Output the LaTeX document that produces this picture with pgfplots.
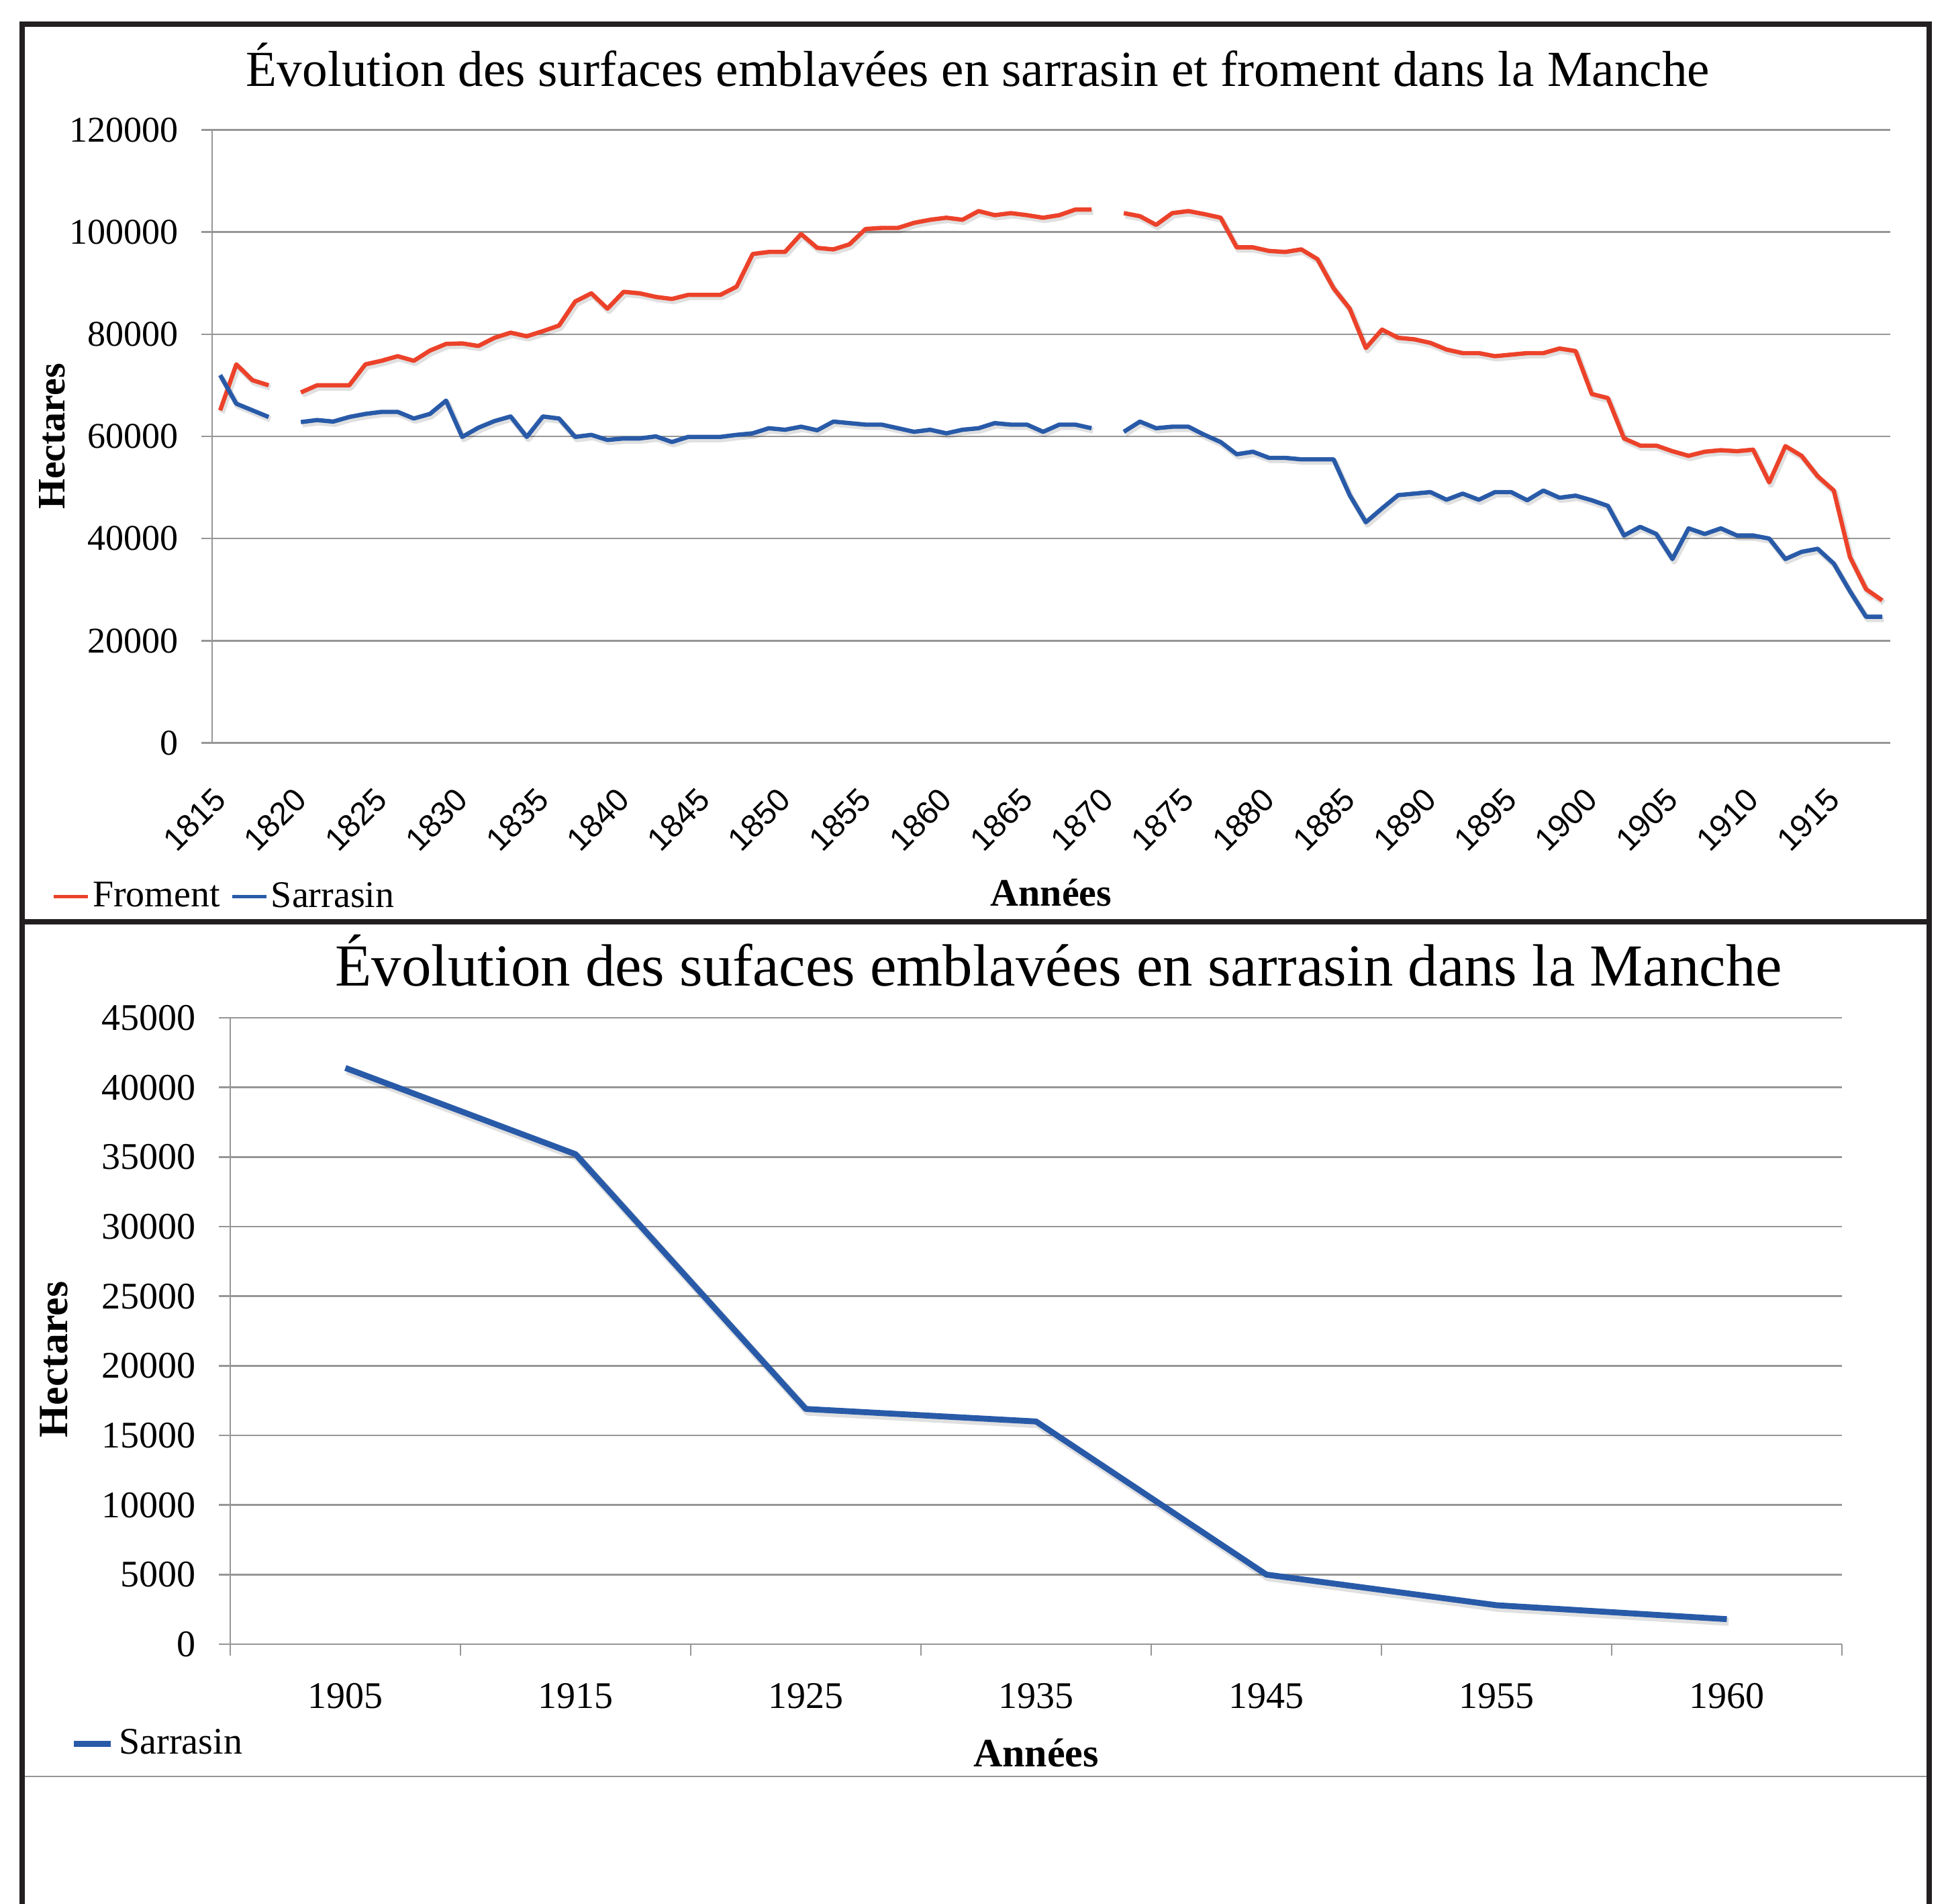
\documentclass[border=0pt]{standalone}
\usepackage{fontspec}
\setmainfont{Liberation Serif}
\setsansfont{Liberation Sans}
\usepackage{pgfplots}
\usepackage{pgfplotstable}
\pgfplotsset{compat=1.18}
\definecolor{froment}{RGB}{236,66,42}
\definecolor{sarrasin}{RGB}{40,90,168}
\definecolor{gridgray}{RGB}{150,150,150}
\definecolor{frame}{RGB}{35,31,32}

\pgfplotstableread{
year F S
1815 65100 72000
1816 74100 66400
1817 71000 65100
1818 70000 63800
1819 nan nan
1820 68600 62800
1821 70000 63200
1822 70000 62900
1823 70000 63800
1824 74100 64400
1825 74800 64800
1826 75700 64800
1827 74800 63500
1828 76800 64400
1829 78100 67000
1830 78200 59900
1831 77700 61700
1832 79300 63000
1833 80300 63900
1834 79600 59900
1835 80600 63900
1836 81700 63500
1837 86400 59900
1838 88000 60300
1839 85000 59300
1840 88300 59600
1841 88000 59600
1842 87300 60000
1843 86900 58900
1844 87700 59900
1845 87700 59900
1846 87700 59900
1847 89300 60300
1848 95700 60600
1849 96100 61600
1850 96100 61300
1851 99600 61900
1852 96900 61200
1853 96600 62900
1854 97600 62600
1855 100600 62300
1856 100800 62300
1857 100800 61600
1858 101800 60900
1859 102400 61300
1860 102800 60600
1861 102400 61300
1862 104100 61600
1863 103300 62600
1864 103700 62300
1865 103300 62300
1866 102800 60900
1867 103300 62300
1868 104400 62300
1869 104400 61600
1870 nan nan
1871 103700 60900
1872 103100 62900
1873 101400 61600
1874 103700 61900
1875 104100 61900
1876 103500 60300
1877 102800 58900
1878 97000 56500
1879 97000 57000
1880 96300 55800
1881 96100 55800
1882 96600 55500
1883 94700 55500
1884 89000 55500
1885 85000 48500
1886 77300 43200
1887 80900 45900
1888 79300 48500
1889 79000 48800
1890 78300 49100
1891 77000 47600
1892 76300 48800
1893 76300 47600
1894 75700 49100
1895 76000 49100
1896 76300 47500
1897 76300 49400
1898 77200 48000
1899 76700 48400
1900 68300 47500
1901 67500 46400
1902 59600 40600
1903 58200 42300
1904 58200 40900
1905 57100 36000
1906 56200 42000
1907 57000 40900
1908 57300 42000
1909 57100 40600
1910 57400 40600
1911 51000 40000
1912 58100 36000
1913 56200 37400
1914 52200 38000
1915 49400 35100
1916 36400 29700
1917 30100 24700
1918 27900 24700
}\datatop

\pgfplotstableread{
idx val
0 41400
1 35200
2 16900
3 16000
4 5000
5 2800
6 1800
}\databot

\begin{document}
\begin{tikzpicture}
\fill[white] (0,0) rectangle (725.5pt,-709pt);
\useasboundingbox (0,0) rectangle (725.5pt,-709pt);

% ---------------- top chart ----------------
\begin{axis}[
  at={(79pt,-276.65pt)}, anchor=south west,
  scale only axis, width=625pt, height=228.3pt,
  xmin=1814.5, xmax=1918.5, ymin=0, ymax=120000,
  scaled x ticks=false, scaled y ticks=false,
  axis x line*=bottom, axis y line*=left,
  axis line style={gridgray, line width=0.6pt},
  ymajorgrids, grid style={gridgray, line width=0.6pt},
  xtick={1815,1820,1825,1830,1835,1840,1845,1850,1855,1860,1865,1870,1875,1880,1885,1890,1895,1900,1905,1910,1915},
  xticklabels={1815,1820,1825,1830,1835,1840,1845,1850,1855,1860,1865,1870,1875,1880,1885,1890,1895,1900,1905,1910,1915},
  x tick style={draw=none},
  ytick={0,20000,40000,60000,80000,100000,120000},
  yticklabels={0,20000,40000,60000,80000,100000,120000},
  y tick style={gridgray, line width=0.6pt},
  tick align=outside, major tick length=4pt,
  yticklabel style={font=\fontsize{13.5}{14}\selectfont, xshift=-5pt},
  xticklabel style={font=\sffamily\fontsize{12}{12}\selectfont, yshift=-15pt, rotate=45, anchor=east, inner sep=0pt},
  unbounded coords=jump,
  title={Évolution des surfaces emblavées en sarrasin et froment dans la Manche},
  title style={at={(0.4564,1.0716)}, anchor=base, yshift=-6pt, font=\fontsize{18.8}{19}\selectfont},
  xlabel={Années},
  xlabel style={at={(axis description cs:0.5,-0.2446)}, anchor=center, font=\bfseries\fontsize{14.5}{15}\selectfont},
  ylabel={Hectares},
  ylabel style={at={(axis description cs:-0.0952,0.5)}, anchor=center, rotate=0, font=\bfseries\fontsize{14.5}{15}\selectfont},
  legend style={at={(-0.0956,-0.2446)}, anchor=west, draw=none, fill=none, inner sep=0pt, yshift=-1.4pt,
    legend columns=2, font=\fontsize{14}{14}\selectfont,
    nodes={inner sep=1pt},
    /tikz/every even column/.append style={column sep=3pt}},
  legend cell align=left,
  legend image code/.code={\draw[#1, line width=1.3pt] (0pt,0pt) -- (12.75pt,0pt);},
]
\addplot[black, opacity=0.12, line width=2.2pt, line join=round, xshift=0.6pt, yshift=-0.9pt, forget plot] table[x=year,y=F]{\datatop};
\addplot[black, opacity=0.12, line width=2.2pt, line join=round, xshift=0.6pt, yshift=-0.9pt, forget plot] table[x=year,y=S]{\datatop};
\addplot[froment, line width=1.6pt, line join=round] table[x=year,y=F]{\datatop};
\addplot[sarrasin, line width=1.6pt, line join=round] table[x=year,y=S]{\datatop};
\legend{Froment,Sarrasin}
\end{axis}

% ---------------- bottom chart ----------------
\begin{axis}[
  at={(85.75pt,-612.25pt)}, anchor=south west,
  scale only axis, width=600.25pt, height=233.25pt,
  xmin=-0.5, xmax=6.5, ymin=0, ymax=45000,
  scaled x ticks=false, scaled y ticks=false,
  axis x line*=bottom, axis y line*=left,
  axis line style={gridgray, line width=0.6pt},
  ymajorgrids, grid style={gridgray, line width=0.6pt},
  xtick={0,1,2,3,4,5,6},
  xticklabels={1905,1915,1925,1935,1945,1955,1960},
  major x tick style={draw=none},
  minor xtick={-0.5,0.5,1.5,2.5,3.5,4.5,5.5,6.5},
  minor x tick style={gridgray, line width=0.6pt},
  minor tick length=4.25pt,
  ytick={0,5000,10000,15000,20000,25000,30000,35000,40000,45000},
  yticklabels={0,5000,10000,15000,20000,25000,30000,35000,40000,45000},
  y tick style={gridgray, line width=0.6pt},
  tick align=outside, major tick length=4.25pt,
  yticklabel style={font=\fontsize{14}{14}\selectfont, xshift=-5pt},
  xticklabel style={font=\fontsize{14}{14}\selectfont, yshift=-6.8pt},
  title={Évolution des sufaces emblavées en sarrasin dans la Manche},
  title style={at={(0.514,1.0514)}, anchor=base, yshift=-6pt, font=\fontsize{22.2}{22}\selectfont},
  xlabel={Années},
  xlabel style={at={(axis description cs:0.5,-0.1736)}, anchor=center, font=\bfseries\fontsize{15}{15}\selectfont},
  ylabel={Hectares},
  ylabel style={at={(axis description cs:-0.1095,0.4544)}, anchor=center, rotate=0, font=\bfseries\fontsize{15.5}{16}\selectfont},
  legend style={at={(-0.0991,-0.153)}, anchor=west, draw=none, fill=none, inner sep=0pt, yshift=-1.4pt,
    font=\fontsize{14}{14}\selectfont, nodes={inner sep=2pt}},
  legend cell align=left,
  legend image code/.code={\draw[#1, line width=2.2pt] (0pt,0pt) -- (13.75pt,0pt);},
]
\addplot[black, opacity=0.12, line width=3pt, line join=round, xshift=0.7pt, yshift=-1pt, forget plot] table[x=idx,y=val]{\databot};
\addplot[sarrasin, line width=2.2pt, line join=round] table[x=idx,y=val]{\databot};
\legend{Sarrasin}
\end{axis}

% ---------------- frames ----------------
\draw[gridgray, line width=0.6pt] (8.25pt,-661.5pt) -- (718.5pt,-661.5pt);
\draw[frame, line width=2pt] (8.25pt,-343.25pt) -- (718.5pt,-343.25pt);
\draw[frame, line width=2pt] (8.25pt,-709pt) -- (8.25pt,-9pt) -- (718.5pt,-9pt) -- (718.5pt,-709pt);
\end{tikzpicture}
\end{document}
